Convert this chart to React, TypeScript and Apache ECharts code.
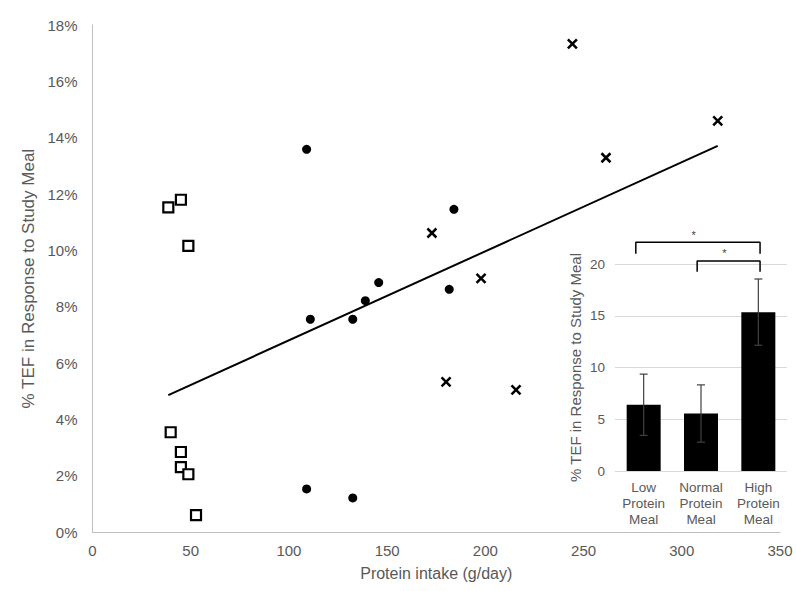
import React, { useEffect, useRef } from "react";
import * as echarts from "echarts";

// Main scatter: protein intake (g/day) vs % TEF
const lowX = [38.6, 45.0, 48.8, 39.8, 45.0, 45.0, 48.8, 52.7];
const lowY = [11.53, 11.8, 10.16, 3.55, 2.85, 2.31, 2.06, 0.61];
const normX = [109.0, 184.0, 145.7, 138.9, 110.9, 132.5, 181.6, 109.0, 132.5];
const normY = [13.59, 11.46, 8.86, 8.22, 7.56, 7.56, 8.62, 1.54, 1.22];
const highX = [244.3, 318.3, 261.4, 180.0, 215.6, 172.8, 197.8];
const highY = [17.33, 14.6, 13.29, 5.34, 5.05, 10.62, 9.01];
const trendX = [38.6, 318.3];
const trendY = [4.87, 13.71];

// Inset bar chart
const barCats = ["Low\nProtein\nMeal", "Normal\nProtein\nMeal", "High\nProtein\nMeal"];
const barMeans = [6.4, 5.55, 15.35];
const barErr = [2.96, 2.77, 3.2];
// significance brackets (inset value-x from 0..3, y in inset units)
const br1X = [0.363, 0.363, 2.53, 2.53];
const br1Y = [21.0, 22.1, 22.1, 21.0];
const br2X = [1.433, 1.433, 2.53, 2.53];
const br2Y = [19.26, 20.3, 20.3, 19.26];
const starX = [1.37, 1.91];
const starY = [22.8, 21.05];

const FONT = "'Liberation Sans', Arial, sans-serif";
const TXT = "#595959";

const zip = (a: number[], b: number[]) => a.map((v, i) => [v, b[i]]);

export default function App() {
  const ref = useRef<HTMLDivElement>(null);
  useEffect(() => {
    if (!ref.current) return;
    const chart = echarts.init(ref.current, undefined, { renderer: "svg" });
    chart.setOption({
      animation: false,
      backgroundColor: "#fff",
      textStyle: { fontFamily: FONT },
      grid: [
        { left: 92.5, right: 16, top: 25, bottom: 58.7 },
        { left: 615, right: 9, top: 264, bottom: 120 },
      ],
      xAxis: [
        {
          type: "value",
          gridIndex: 0,
          min: 0,
          max: 350,
          interval: 50,
          splitLine: { show: false },
          axisLine: { show: true, lineStyle: { color: "#bfbfbf", width: 1 } },
          axisTick: { show: false },
          axisLabel: { color: TXT, fontSize: 15, margin: 11, fontFamily: FONT },
          name: "Protein intake (g/day)",
          nameLocation: "middle",
          nameGap: 33,
          nameTextStyle: { color: TXT, fontSize: 16, fontFamily: FONT },
        },
        {
          type: "category",
          gridIndex: 1,
          data: barCats,
          axisLine: { show: false },
          axisTick: { show: false },
          axisLabel: { color: TXT, fontSize: 13.5, lineHeight: 16, margin: 8, fontFamily: FONT, interval: 0 },
        },
        {
          type: "value",
          gridIndex: 1,
          min: 0,
          max: 3,
          show: false,
        },
      ],
      yAxis: [
        {
          type: "value",
          gridIndex: 0,
          min: 0,
          max: 18,
          interval: 2,
          splitLine: { show: false },
          axisLine: { show: true, lineStyle: { color: "#bfbfbf", width: 1 } },
          axisTick: { show: false },
          axisLabel: { color: TXT, fontSize: 15, margin: 15, formatter: "{value}%", fontFamily: FONT },
          name: "% TEF in Response to Study Meal",
          nameLocation: "middle",
          nameGap: 47,
          nameTextStyle: { color: TXT, fontSize: 17, fontFamily: FONT },
        },
        {
          type: "value",
          gridIndex: 1,
          min: 0,
          max: 20,
          interval: 5,
          splitLine: { show: true, lineStyle: { color: "#d9d9d9", width: 1 } },
          axisLine: { show: false },
          axisTick: { show: false },
          axisLabel: { color: TXT, fontSize: 13.5, margin: 10, fontFamily: FONT },
          name: "% TEF in Response to Study Meal",
          nameLocation: "middle",
          nameGap: 32,
          nameTextStyle: { color: TXT, fontSize: 15, fontFamily: FONT },
        },
      ],
      series: [
        {
          type: "line",
          xAxisIndex: 0,
          yAxisIndex: 0,
          data: zip(trendX, trendY),
          symbol: "none",
          lineStyle: { color: "#000", width: 2 },
          z: 2,
        },
        {
          type: "scatter",
          xAxisIndex: 0,
          yAxisIndex: 0,
          data: zip(lowX, lowY),
          symbol: "rect",
          symbolSize: 10,
          itemStyle: { color: "#fff", borderColor: "#000", borderWidth: 2.2, opacity: 1 },
          z: 3,
        },
        {
          type: "scatter",
          xAxisIndex: 0,
          yAxisIndex: 0,
          data: zip(normX, normY),
          symbol: "circle",
          symbolSize: 9,
          itemStyle: { color: "#000", opacity: 1 },
          z: 3,
        },
        {
          type: "scatter",
          xAxisIndex: 0,
          yAxisIndex: 0,
          data: zip(highX, highY),
          symbol: "path://M0 0L10 10M10 0L0 10",
          symbolSize: 9,
          itemStyle: { color: "none", borderColor: "#000", borderWidth: 2.5, opacity: 1 },
          z: 3,
        },
        {
          type: "bar",
          xAxisIndex: 1,
          yAxisIndex: 1,
          data: barMeans,
          barWidth: 34,
          itemStyle: { color: "#000" },
          z: 2,
        },
        {
          type: "custom",
          xAxisIndex: 1,
          yAxisIndex: 1,
          data: barMeans.map((m, i) => [i, m - barErr[i], m + barErr[i]]),
          encode: { x: 0, y: [1, 2] },
          z: 4,
          renderItem: (params: any, api: any) => {
            const x = api.value(0);
            const p1 = api.coord([x, api.value(1)]);
            const p2 = api.coord([x, api.value(2)]);
            const w = 4;
            const st = { stroke: "#404040", lineWidth: 1.2 };
            return {
              type: "group",
              children: [
                { type: "line", shape: { x1: p1[0], y1: p1[1], x2: p2[0], y2: p2[1] }, style: st },
                { type: "line", shape: { x1: p1[0] - w, y1: p1[1], x2: p1[0] + w, y2: p1[1] }, style: st },
                { type: "line", shape: { x1: p2[0] - w, y1: p2[1], x2: p2[0] + w, y2: p2[1] }, style: st },
              ],
            };
          },
        },
        {
          type: "line",
          xAxisIndex: 2,
          yAxisIndex: 1,
          data: zip(br1X, br1Y),
          symbol: "none",
          clip: false,
          lineStyle: { color: "#000", width: 1.5 },
          z: 5,
        },
        {
          type: "line",
          xAxisIndex: 2,
          yAxisIndex: 1,
          data: zip(br2X, br2Y),
          symbol: "none",
          clip: false,
          lineStyle: { color: "#000", width: 1.5 },
          z: 5,
        },
        {
          type: "scatter",
          xAxisIndex: 2,
          yAxisIndex: 1,
          data: zip(starX, starY),
          symbolSize: 1,
          clip: false,
          itemStyle: { color: "transparent" },
          label: {
            show: true,
            position: "inside",
            formatter: "*",
            color: "#000",
            fontSize: 11,
            fontFamily: FONT,
          },
          z: 5,
        },
      ],
    });
    return () => chart.dispose();
  }, []);
  return (
    <div
      ref={ref}
      style={{ position: "fixed", left: 0, top: 0, width: 796, height: 591 }}
    />
  );
}
